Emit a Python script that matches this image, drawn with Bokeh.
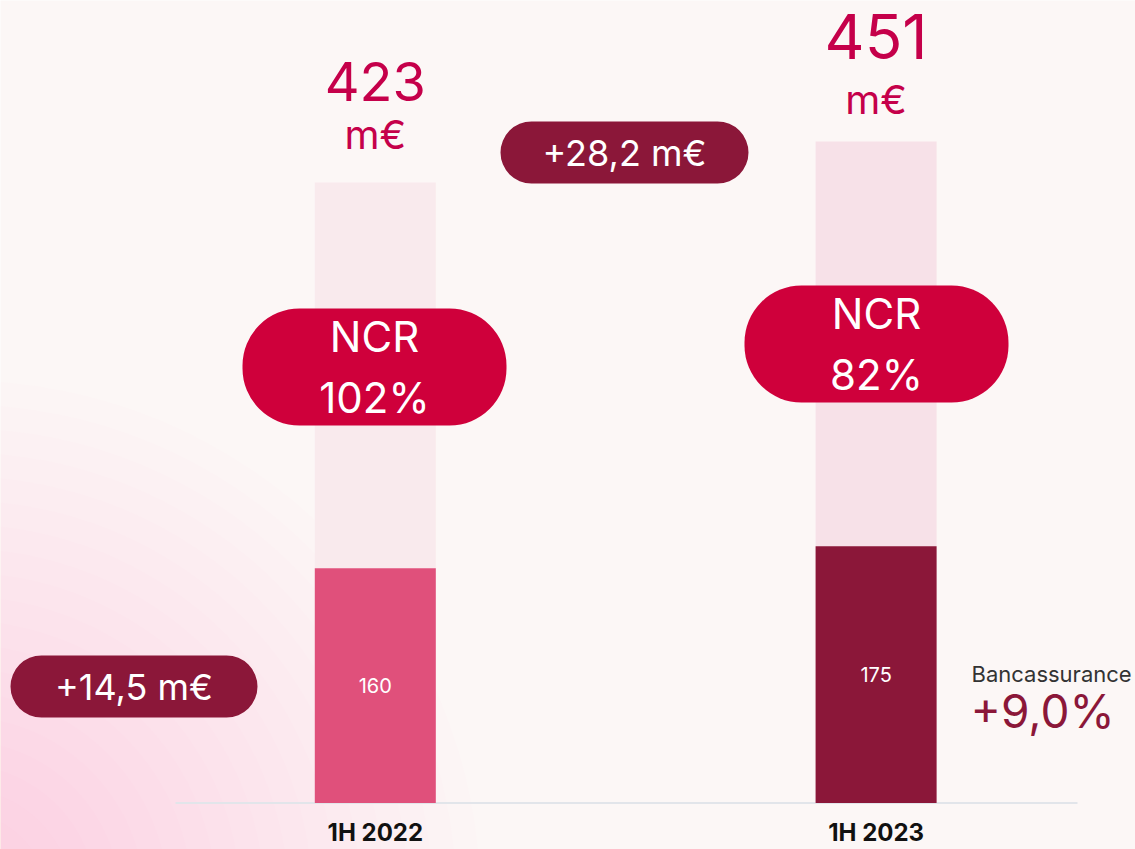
from bokeh.plotting import figure
from bokeh.models import Range1d, ColumnDataSource
from bokeh.core.properties import value
from bokeh.embed import file_html
from bokeh.resources import INLINE

# ---- data ----
categories = ["1H 2022", "1H 2023"]
bancassurance = [160, 175]
totals = [423, 451]
unit_label = "m€"
ncr_labels = ["NCR\n102%", "NCR\n82%"]
total_delta = "+28,2 m€"
banc_delta = "+14,5 m€"
banc_name = "Bancassurance"
banc_growth = "+9,0%"

# ---- styles ----
FONT = value("Inter")
top_colors = ["#f9eaed", "#f7e1e8"]
bottom_colors = ["#e0507b", "#8b1739"]
CRIMSON = "#cf003b"
MAROON = "#8b1739"
NUM_COLOR = "#c5004a"
BG = "#fcf7f6"

W, H = 1135, 849
PX_PER_UNIT_X = 500.8
PX_PER_UNIT_Y = 1.467
X0_PX = 374.8          # pixel of category 0
BASE_PX = 802.5        # pixel of value 0

def px2x(px):
    return (px - X0_PX) / PX_PER_UNIT_X

def px2y(py):
    return (BASE_PX - py) / PX_PER_UNIT_Y

x_range = Range1d(px2x(0), px2x(W))
y_range = Range1d(px2y(H), px2y(0))

p = figure(width=W, height=H, output_backend="svg", toolbar_location=None,
           x_range=x_range, y_range=y_range,
           min_border_left=0, min_border_right=0, min_border_top=0,
           min_border_bottom=0)
p.background_fill_color = BG
p.border_fill_color = BG
p.outline_line_color = None
p.grid.visible = False
p.axis.visible = False

xs = list(range(len(categories)))

# soft pink glow toward the bottom-left corner
for i in range(20):
    r = 520 - i * 24
    p.ellipse(x=px2x(-40), y=px2y(900), width=2 * r / PX_PER_UNIT_X,
              height=2 * r / PX_PER_UNIT_Y, fill_color="#efb6c4",
              fill_alpha=0.022, line_color=None)

# baseline
p.segment(x0=[px2x(175)], y0=[0], x1=[px2x(1077)], y1=[0],
          line_color="#e2e5ea", line_width=2)

bar_w = 121 / PX_PER_UNIT_X
src = ColumnDataSource(dict(x=xs, total=totals, banc=bancassurance,
                            cat=categories,
                            banc_mid=[b / 2 for b in bancassurance],
                            banc_txt=[str(b) for b in bancassurance],
                            total_txt=[str(t) for t in totals],
                            unit=[unit_label] * 2,
                            top_c=top_colors, bot_c=bottom_colors,
                            num_size=["54px", "62px"], num_off=[-101, -105],
                            unit_off=[-48, -42]))

p.vbar(x="x", width=bar_w, bottom=0, top="total", fill_color="top_c",
       line_color=None, source=src)
p.vbar(x="x", width=bar_w, bottom=0, top="banc", fill_color="bot_c",
       line_color=None, source=src)

p.text(x="x", y="banc_mid", text="banc_txt", source=src, text_align="center",
       text_baseline="middle", text_font=FONT, text_font_size="20px",
       text_color="white")
p.text(x="x", y="total", text="total_txt", source=src, text_align="center",
       text_baseline="alphabetic", y_offset="num_off", text_font=FONT,
       text_font_size="num_size", text_color=NUM_COLOR)
p.text(x="x", y="total", text="unit", source=src, text_align="center",
       text_baseline="alphabetic", y_offset="unit_off", text_font=FONT,
       text_font_size="40px", text_color=NUM_COLOR)

# category labels under the baseline
p.text(x="x", y=0, text="cat", source=src, text_align="center",
       text_baseline="middle", y_offset=29, text_font=FONT,
       text_font_size="24px", text_font_style="bold", text_color="#111111")

# NCR pills
ncr_top = [308, 285]
ncr_h = 117
ncr_w = 264
ncr_cx = [374, 876]
p.quad(left=[px2x(c - ncr_w / 2) for c in ncr_cx],
       right=[px2x(c + ncr_w / 2) for c in ncr_cx],
       top=[px2y(t) for t in ncr_top],
       bottom=[px2y(t + ncr_h) for t in ncr_top],
       fill_color=CRIMSON, line_color=None, border_radius=57)
p.text(x=[px2x(c) for c in ncr_cx], y=[px2y(t + ncr_h / 2) for t in ncr_top],
       text=ncr_labels, text_align="center", text_baseline="middle",
       text_font=FONT, text_font_size="42px", text_color="white",
       text_line_height=1.2)

# delta pills
pills = [(500, 748, 121, 183, total_delta), (10, 257, 655, 717, banc_delta)]
p.quad(left=[px2x(a[0]) for a in pills], right=[px2x(a[1]) for a in pills],
       top=[px2y(a[2]) for a in pills], bottom=[px2y(a[3]) for a in pills],
       fill_color=MAROON, line_color=None, border_radius=31)
p.text(x=[px2x((a[0] + a[1]) / 2) for a in pills],
       y=[px2y((a[2] + a[3]) / 2) for a in pills],
       text=[a[4] for a in pills], text_align="center", text_baseline="middle",
       text_font=FONT, text_font_size="36px", text_color="white")

# bancassurance growth
p.text(x=[px2x(971)], y=[px2y(673.5)], text=[banc_name], text_align="left",
       text_baseline="alphabetic", text_font=FONT, text_font_size="22px",
       text_color="#333333")
p.text(x=[px2x(970)], y=[px2y(710)], text=[banc_growth], text_align="left",
       text_baseline="alphabetic", text_font=FONT, text_font_size="46px",
       text_color=MAROON)

open("out.html", "w").write(file_html(p, INLINE))
